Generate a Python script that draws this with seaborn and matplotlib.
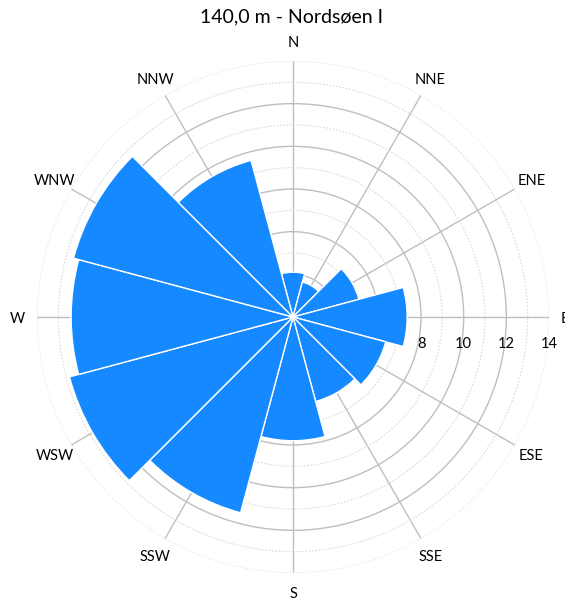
import numpy as np
import matplotlib
matplotlib.use("Agg")
import matplotlib.pyplot as plt
import seaborn as sns

# wind rose, 140 m, Nordsøen I (frequency per 30° sector)
directions = ["N", "NNE", "ENE", "E", "ESE", "SSE", "S", "SSW", "WSW", "W", "WNW", "NNW"]
frequency = [4.1, 3.7, 5.2, 7.35, 6.5, 6.1, 7.8, 11.5, 12.85, 12.4, 12.65, 9.6]
r_min, r_max = 2, 14
major_rings = [4, 6, 8, 10, 12]
minor_rings = [3, 5, 7, 9, 11, 13, 14]
ring_labels = [8, 10, 12, 14]
title = "140,0 m - Nordsøen I"

sns.set_theme(style="white")
plt.rcParams["font.family"] = ["Lato", "DejaVu Sans"]

BLUE = "#1589FF"
GRID = "#BFBFBF"
GRID_LIGHT = "#D9D9D9"

fig = plt.figure(figsize=(5.65, 6.01), dpi=100)
ax = fig.add_axes([37 / 565, 28 / 601, 512 / 565, 512 / 601], projection="polar")
ax.set_theta_zero_location("N")
ax.set_theta_direction(-1)

n = len(directions)
theta = np.deg2rad(np.arange(n) * 360 / n)
width = 2 * np.pi / n
heights = np.array(frequency) - r_min

ax.bar(theta, heights, width=width, bottom=r_min, color=BLUE,
       edgecolor="white", linewidth=1.0, zorder=3)

ax.set_ylim(r_min, r_max)
ticks = sorted(major_rings + minor_rings)
ax.set_yticks(ticks)
ax.set_yticklabels([])
for gl, t in zip(ax.yaxis.get_gridlines(), ticks):
    if t in major_rings:
        gl.set(color=GRID, linewidth=1.0, linestyle="-")
    else:
        gl.set(color=GRID_LIGHT, linewidth=0.8, linestyle=(0, (1.5, 1.5)))

ax.set_xticks(theta)
ax.set_xticklabels([])
ax.xaxis.grid(True, color=GRID, linewidth=1.0, linestyle="-")
ax.spines["polar"].set_visible(False)
ax.set_axisbelow(True)
ax.tick_params(length=0)

# direction labels centred just outside the outer ring;
# the east one hangs off the right edge, so anchor it by its left side
for t, name in zip(theta, directions):
    if np.sin(t) > 0.99:
        ax.text(t, r_max + 0.55, name, ha="left", va="center_baseline",
                fontsize=10.5, color="black", clip_on=False, zorder=5)
    else:
        ax.text(t, r_max + 0.9, name, ha="center", va="center_baseline",
                fontsize=10.5, color="black", clip_on=False, zorder=5)

# ring value labels below the east spoke
for v in ring_labels:
    ax.annotate(str(v), xy=(np.deg2rad(90), v), xytext=(0, -19.5),
                textcoords="offset points", ha="center", va="center",
                fontsize=10.5, color="black", annotation_clip=False, zorder=5)

fig.text(291 / 565, 1 - 22.7 / 601, title, ha="center", va="baseline",
         fontsize=14, color="black")

fig.savefig("out.png", dpi=100, facecolor="white")
